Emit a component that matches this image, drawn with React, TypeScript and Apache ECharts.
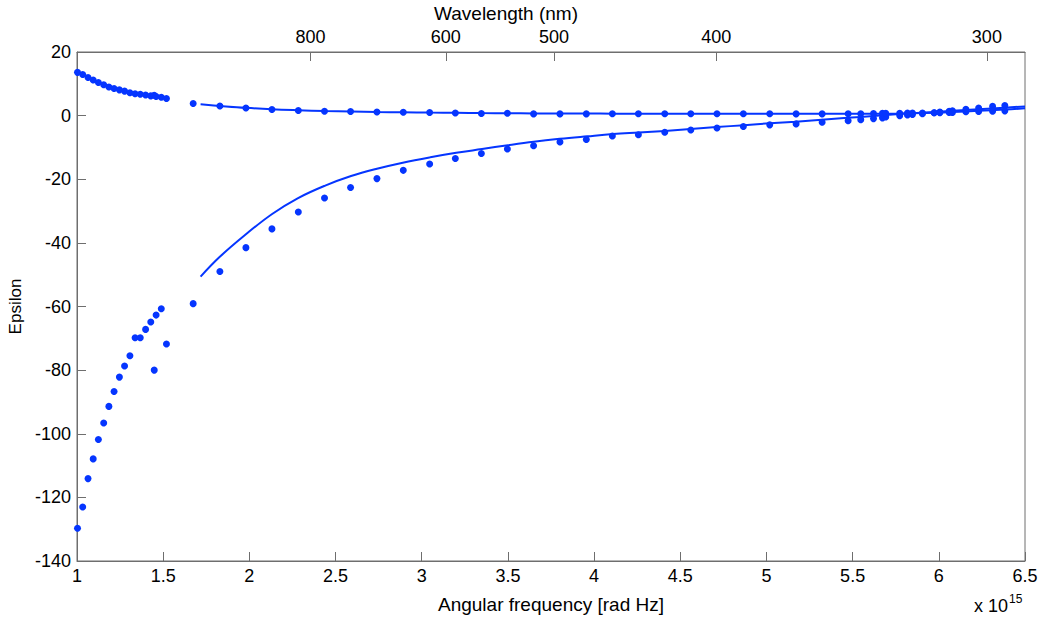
import React, { useEffect, useRef } from "react";
import * as echarts from "echarts";

// Measured data, set 1 (x in 1e15 rad/s)
const set1X = [1.003, 1.033, 1.064, 1.094, 1.124, 1.155, 1.185, 1.215, 1.246, 1.276, 1.307, 1.337, 1.367, 1.398, 1.428, 1.448, 1.459, 1.489, 1.519];
const set1Real = [-129.7, -123.0, -114.1, -107.9, -101.8, -96.6, -91.4, -86.7, -82.2, -78.7, -75.5, -69.8, -69.8, -67.2, -64.9, -80.0, -62.7, -60.7, -71.8];
const set1Imag = [13.6, 12.9, 12.0, 11.2, 10.4, 9.7, 9.0, 8.5, 8.1, 7.7, 7.2, 6.9, 6.7, 6.5, 6.2, 6.4, 6.0, 5.8, 5.4];

// Measured data, set 2
const set2X = [1.674, 1.829, 1.98, 2.131, 2.284, 2.436, 2.587, 2.74, 2.893, 3.046, 3.195, 3.346, 3.497, 3.649, 3.802, 3.955, 4.106, 4.257, 4.41, 4.561, 4.713, 4.866, 5.019, 5.172, 5.323, 5.474, 5.547, 5.621, 5.673, 5.692, 5.773, 5.818, 5.847, 5.905, 5.973, 6.006, 6.06, 6.079, 6.157, 6.231, 6.312, 6.383];
const set2Real = [-59.1, -49.0, -41.5, -35.6, -30.3, -25.9, -22.6, -19.8, -17.2, -15.2, -13.5, -11.9, -10.5, -9.45, -8.3, -7.5, -6.4, -6.0, -5.2, -4.5, -3.9, -3.4, -2.9, -2.6, -2.1, -1.6, -1.26, -0.94, -0.7, -0.4, 0.0, 0.2, 0.35, 0.6, 0.9, 1.1, 1.4, 1.5, 2.0, 2.4, 2.9, 3.2];
const set2Imag = [3.8, 3.05, 2.4, 1.95, 1.6, 1.35, 1.3, 1.15, 1.05, 1.0, 0.85, 0.65, 0.72, 0.55, 0.55, 0.55, 0.6, 0.6, 0.6, 0.6, 0.6, 0.6, 0.6, 0.55, 0.55, 0.6, 0.6, 0.65, 0.7, 0.7, 0.75, 0.8, 0.8, 0.85, 0.9, 0.95, 1.0, 1.0, 1.2, 1.3, 1.4, 1.5];

// Model curves
const modelX = [1.717, 1.83, 1.98, 2.13, 2.28, 2.44, 2.59, 2.74, 2.89, 3.05, 3.2, 3.35, 3.5, 3.65, 3.8, 3.96, 4.11, 4.26, 4.41, 4.56, 4.71, 4.87, 5.02, 5.17, 5.32, 5.47, 5.62, 5.77, 5.92, 6.08, 6.23, 6.38, 6.5];
const modelReal = [-50.6, -44.3, -37.3, -31.0, -26.0, -22.0, -19.0, -16.7, -14.8, -13.1, -11.7, -10.5, -9.3, -8.2, -7.3, -6.5, -5.8, -5.3, -4.8, -4.2, -3.6, -3.0, -2.4, -1.9, -1.3, -0.7, -0.1, 0.5, 1.0, 1.5, 2.0, 2.5, 2.9];
const modelImag = [3.55, 3.05, 2.45, 2.0, 1.7, 1.45, 1.3, 1.15, 1.05, 0.95, 0.88, 0.8, 0.75, 0.7, 0.67, 0.64, 0.62, 0.6, 0.6, 0.6, 0.6, 0.6, 0.6, 0.6, 0.6, 0.6, 0.62, 0.65, 0.8, 1.1, 1.5, 1.9, 2.3];

// Top axis wavelength ticks (nm)
const wavelengthTicks = [800, 600, 500, 400, 300];

const BLUE = "#0535ff";
const C = 2.99792458e8;
const toOmega = (nm: number) => (2 * Math.PI * C) / (nm * 1e-9) / 1e15;
const toNm = (w: number) => (2 * Math.PI * C) / (w * 1e15) / 1e-9;

const zip = (xs: number[], ys: number[]) => xs.map((x, i) => [x, ys[i]]);

export default function App() {
  const ref = useRef<HTMLDivElement>(null);
  useEffect(() => {
    if (!ref.current) return;
    const chart = echarts.init(ref.current, null, { renderer: "svg" });
    const font = "'Liberation Sans', Arial, sans-serif";
    const axisColor = "#6e6e6e";
    const topValues = wavelengthTicks.map(toOmega);
    const dot = { color: BLUE, opacity: 1 };
    chart.setOption({
      animation: false,
      backgroundColor: "#ffffff",
      textStyle: { fontFamily: font },
      grid: {
        left: 77,
        right: 17,
        top: 52,
        bottom: 59,
        show: true,
        borderColor: axisColor,
        borderWidth: 1,
        containLabel: false,
        outerBoundsMode: "none",
      },
      xAxis: [
        {
          type: "value",
          min: 1,
          max: 6.5,
          interval: 0.5,
          position: "bottom",
          name: "Angular frequency [rad Hz]",
          nameLocation: "middle",
          nameGap: 34,
          nameTextStyle: { color: "#000", fontSize: 19, fontFamily: font },
          axisLine: { show: true, onZero: false, lineStyle: { color: axisColor } },
          axisTick: { show: true, inside: true, length: 9, lineStyle: { color: axisColor } },
          axisLabel: { color: "#000", fontSize: 18, margin: 6, fontFamily: font },
          splitLine: { show: false },
        },
        {
          type: "value",
          min: 1,
          max: 6.5,
          position: "top",
          name: "Wavelength (nm)",
          nameLocation: "middle",
          nameGap: 28,
          nameTextStyle: { color: "#000", fontSize: 19, fontFamily: font, padding: [0, 90, 0, 0] },
          axisLine: { show: true, onZero: false, lineStyle: { color: axisColor } },
          axisTick: { show: true, inside: true, length: 9, customValues: topValues, lineStyle: { color: axisColor } },
          axisLabel: {
            color: "#000",
            fontSize: 18,
            margin: 6,
            fontFamily: font,
            customValues: topValues,
            formatter: (v: number) => String(Math.round(toNm(v))),
          },
          splitLine: { show: false },
        },
      ],
      yAxis: [
        {
          type: "value",
          min: -140,
          max: 20,
          interval: 20,
          name: "Epsilon",
          nameLocation: "middle",
          nameGap: 52,
          nameRotate: 90,
          nameTextStyle: { color: "#000", fontSize: 17, fontFamily: font },
          axisLine: { show: true, onZero: false, lineStyle: { color: axisColor } },
          axisTick: { show: true, inside: true, length: 9, lineStyle: { color: axisColor } },
          axisLabel: { color: "#000", fontSize: 18, margin: 6, fontFamily: font },
          splitLine: { show: false },
        },
      ],
      graphic: [
        {
          type: "text",
          left: 974,
          top: 593,
          style: {
            text: "{a|x 10}{b|15}",
            rich: {
              a: { fontSize: 18, fontFamily: font, fill: "#000", verticalAlign: "bottom" },
              b: { fontSize: 12, fontFamily: font, fill: "#000", verticalAlign: "top", padding: [0, 0, 10, 1] },
            },
          },
        },
      ],
      series: [
        {
          type: "line",
          data: zip(modelX, modelReal),
          smooth: 0.4,
          showSymbol: false,
          lineStyle: { color: BLUE, width: 2 },
          itemStyle: { color: BLUE },
          z: 3,
        },
        {
          type: "line",
          data: zip(modelX, modelImag),
          smooth: 0.4,
          showSymbol: false,
          lineStyle: { color: BLUE, width: 2 },
          itemStyle: { color: BLUE },
          z: 3,
        },
        { type: "scatter", data: zip(set1X, set1Real), symbolSize: 7, itemStyle: dot, z: 4 },
        { type: "scatter", data: zip(set1X, set1Imag), symbolSize: 7, itemStyle: dot, z: 4 },
        { type: "scatter", data: zip(set2X, set2Real), symbolSize: 7, itemStyle: dot, z: 4 },
        { type: "scatter", data: zip(set2X, set2Imag), symbolSize: 7, itemStyle: dot, z: 4 },
      ],
    });
    return () => chart.dispose();
  }, []);
  return <div ref={ref} style={{ position: "fixed", left: 0, top: 0, width: 1042, height: 620, background: "#fff" }} />;
}
